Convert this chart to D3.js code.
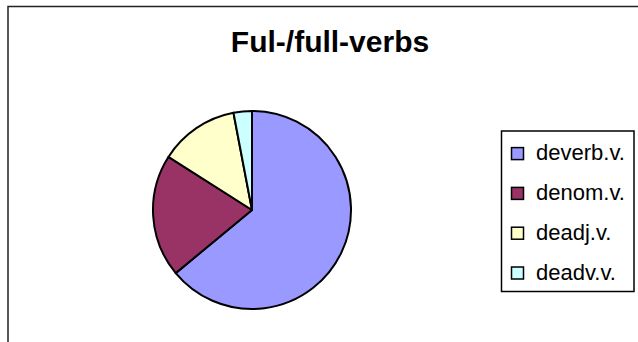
<!DOCTYPE html>
<html>
<head>
<meta charset="utf-8">
<script src="https://cdn.jsdelivr.net/npm/d3@7"></script>
<style>
  html, body { margin: 0; padding: 0; background: #fff; }
  svg { display: block; }
</style>
</head>
<body>
<svg id="chart" width="638" height="342"></svg>
<script>
// Word-formation types of ful-/full- verbs (share, %)
const categories = ["deverb.v.", "denom.v.", "deadj.v.", "deadv.v."];
const values = [64, 20, 13, 3];
const colors = ["#9999FF", "#993366", "#FFFFCC", "#CCFFFF"];
const title = "Ful-/full-verbs";

const svg = d3.select("#chart");
const font = "'Liberation Sans', Arial, sans-serif";

// Chart-area frame (open on the right and bottom)
svg.append("path")
  .attr("d", "M8,342V6.5H638")
  .attr("fill", "none")
  .attr("stroke", "#222")
  .attr("stroke-width", 1.5);

// Title
svg.append("text")
  .attr("x", 330)
  .attr("y", 52)
  .attr("text-anchor", "middle")
  .attr("font-family", font)
  .attr("font-weight", "bold")
  .attr("font-size", 30)
  .attr("fill", "#000")
  .text(title);

// Pie
const cx = 252, cy = 210, r = 99;
const pie = d3.pie().sort(null).startAngle(0).endAngle(2 * Math.PI);
const arc = d3.arc().innerRadius(0).outerRadius(r);
const color = d3.scaleOrdinal().domain(categories).range(colors);

const data = categories.map((c, i) => ({ name: c, value: values[i] }));

svg.append("g")
  .attr("transform", `translate(${cx},${cy})`)
  .selectAll("path")
  .data(pie.value(d => d.value)(data))
  .join("path")
  .attr("d", arc)
  .attr("fill", d => color(d.data.name))
  .attr("stroke", "#000")
  .attr("stroke-width", 2)
  .attr("stroke-linejoin", "round");

// Legend
const lx = 501.5, ly = 131, lw = 132.5, lh = 160.5;
const legend = svg.append("g");
legend.append("rect")
  .attr("x", lx).attr("y", ly)
  .attr("width", lw).attr("height", lh)
  .attr("fill", "#fff")
  .attr("stroke", "#000")
  .attr("stroke-width", 1.5);

const rowY = d3.scalePoint().domain(categories).range([153.6, 273]);

const items = legend.selectAll("g.item")
  .data(categories)
  .join("g")
  .attr("class", "item")
  .attr("transform", d => `translate(0,${rowY(d)})`);

items.append("rect")
  .attr("x", 511.5).attr("y", -6)
  .attr("width", 12).attr("height", 12)
  .attr("fill", d => color(d))
  .attr("stroke", "#000")
  .attr("stroke-width", 1.5);

items.append("text")
  .attr("x", 536)
  .attr("y", 6.5)
  .attr("font-family", font)
  .attr("font-size", 22)
  .attr("fill", "#000")
  .text(d => d);
</script>
</body>
</html>
